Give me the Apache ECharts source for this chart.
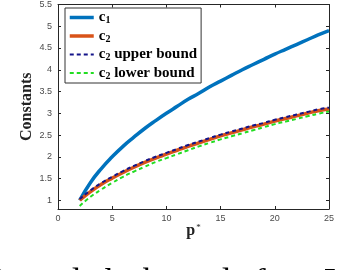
<!DOCTYPE html>
<html>
<head>
<meta charset="utf-8">
<script src="https://cdn.jsdelivr.net/npm/echarts@6/dist/echarts.min.js"></script>
<style>
  html, body { margin: 0; padding: 0; background: #fff; }
  #chart { width: 338px; height: 270px; }
</style>
</head>
<body>
<div id="chart"></div>
<script>
// ---- data ----
var pValues = [2, 3, 4, 5, 6, 7, 8, 9, 10, 11, 12, 13, 14, 15, 16, 17, 18, 19, 20, 21, 22, 23, 24, 25];
var c1 = [1.00, 1.41, 1.73, 2.00, 2.24, 2.45, 2.65, 2.83, 3.00, 3.16, 3.32, 3.46, 3.61, 3.74, 3.87, 4.00, 4.12, 4.24, 4.36, 4.47, 4.58, 4.69, 4.80, 4.90];
var c2 = [1.00, 1.20, 1.37, 1.51, 1.64, 1.76, 1.87, 1.97, 2.06, 2.15, 2.24, 2.32, 2.40, 2.48, 2.55, 2.62, 2.69, 2.75, 2.82, 2.88, 2.94, 3.00, 3.06, 3.10];
var c2Upper = [1.03, 1.23, 1.40, 1.54, 1.67, 1.79, 1.90, 2.00, 2.09, 2.18, 2.27, 2.35, 2.43, 2.51, 2.58, 2.65, 2.72, 2.78, 2.85, 2.91, 2.97, 3.03, 3.09, 3.13];
var c2Lower = [0.87, 1.08, 1.25, 1.40, 1.54, 1.66, 1.77, 1.88, 1.97, 2.06, 2.15, 2.24, 2.32, 2.40, 2.47, 2.54, 2.61, 2.68, 2.75, 2.81, 2.87, 2.93, 2.99, 3.04];
var seriesNames = ['c1', 'c2', 'c2 upper bound', 'c2 lower bound'];
var yTicks = [1, 1.5, 2, 2.5, 3, 3.5, 4, 4.5, 5, 5.5];
var xTicks = [0, 5, 10, 15, 20, 25];
var captionWords = [')', 'and', 'the', 'bounds', 'for', 'L'];

function pairs(vals) {
  return pValues.map(function (p, i) { return [p, vals[i]]; });
}

var axisColor = '#262626';
var labelColor = '#4a4a4a';
var serif = '"Liberation Serif", "DejaVu Serif", serif';
var sans = '"Liberation Sans", Arial, sans-serif';

var legendRich = {
  b: { fontFamily: serif, fontWeight: 'bold', fontSize: 15, color: '#000' },
  s: { fontFamily: serif, fontWeight: 'bold', fontSize: 10, color: '#000', verticalAlign: 'bottom', padding: [6, 0, 0, 0] }
};

function legendFormatter(name) {
  var m = name.match(/^c(\d)(.*)$/);
  if (!m) return name;
  return '{b|c}{s|' + m[1] + '}' + (m[2] ? '{b|' + m[2] + '}' : '');
}

var chart = echarts.init(document.getElementById('chart'), null, { renderer: 'canvas' });

var captionX = [-3, 30, 95, 143, 254, 324];
var graphics = captionWords.map(function (w, i) {
  return {
    type: 'text',
    x: captionX[i],
    y: 266,
    style: { text: w, fontFamily: serif, fontSize: 35, fill: '#000', verticalAlign: 'top', align: 'left' }
  };
});

var legendWidths = [3.5, 3.5, 2, 2];

var option = {
  animation: false,
  backgroundColor: '#fff',
  grid: { left: 58, right: 9, top: 3, bottom: 61, containLabel: false },
  legend: {
    left: 65,
    top: 8,
    orient: 'vertical',
    data: seriesNames.map(function (n, i) { return { name: n, lineStyle: { width: legendWidths[i] } }; }),
    itemWidth: 24,
    itemHeight: 14,
    itemGap: 3,
    padding: [2, 4, 2, 3],
    backgroundColor: '#fff',
    borderColor: '#333',
    borderWidth: 1,
    itemStyle: { opacity: 0 },
    formatter: legendFormatter,
    textStyle: { rich: legendRich, color: '#000' },
    selectedMode: false
  },
  xAxis: [{
    type: 'value',
    min: 0, max: 25, interval: 5,
    position: 'bottom',
    name: '{p|p}{st|*}',
    nameLocation: 'middle',
    nameGap: 14,
    nameMoveOverlap: false,
    nameTextStyle: {
      rich: {
        p: { fontFamily: serif, fontWeight: 'bold', fontSize: 16, color: '#222' },
        st: { fontFamily: serif, fontSize: 9, color: '#222', verticalAlign: 'top', padding: [0, 0, 6, 1] }
      }
    },
    axisLine: { show: true, lineStyle: { color: axisColor, width: 1 } },
    axisTick: { show: true, inside: true, length: 3, lineStyle: { color: axisColor } },
    axisLabel: { color: labelColor, fontSize: 9, fontFamily: sans, margin: 5 },
    splitLine: { show: false }
  }, {
    type: 'value',
    min: 0, max: 25, interval: 5,
    position: 'top',
    axisLine: { show: true, onZero: false, lineStyle: { color: axisColor, width: 1 } },
    axisTick: { show: true, inside: true, length: 3, lineStyle: { color: axisColor } },
    axisLabel: { show: false },
    splitLine: { show: false }
  }],
  yAxis: [{
    type: 'value',
    min: 0.8, max: 5.5,
    position: 'left',
    name: 'Constants',
    nameLocation: 'middle',
    nameRotate: 90,
    nameGap: 23,
    nameMoveOverlap: false,
    nameTextStyle: { fontFamily: serif, fontWeight: 'bold', fontSize: 16, color: '#222' },
    axisLine: { show: true, onZero: false, lineStyle: { color: axisColor, width: 1 } },
    axisTick: { show: true, inside: true, length: 3, customValues: yTicks, lineStyle: { color: axisColor } },
    axisLabel: { color: labelColor, fontSize: 9, fontFamily: sans, margin: 6, customValues: yTicks },
    splitLine: { show: false }
  }, {
    type: 'value',
    min: 0.8, max: 5.5,
    position: 'right',
    axisLine: { show: true, onZero: false, lineStyle: { color: axisColor, width: 1 } },
    axisTick: { show: true, inside: true, length: 3, customValues: yTicks, lineStyle: { color: axisColor } },
    axisLabel: { show: false, customValues: yTicks },
    splitLine: { show: false }
  }],
  series: [{
    name: seriesNames[0], type: 'line', data: pairs(c1), symbol: 'none', smooth: true,
    lineStyle: { color: '#0072BD', width: 3.5 }, itemStyle: { color: '#0072BD' }
  }, {
    name: seriesNames[1], type: 'line', data: pairs(c2), symbol: 'none', smooth: true,
    lineStyle: { color: '#D95319', width: 3.5 }, itemStyle: { color: '#D95319' }
  }, {
    name: seriesNames[2], type: 'line', data: pairs(c2Upper), symbol: 'none', smooth: true,
    lineStyle: { color: '#14148a', width: 2, type: [4, 3] }, itemStyle: { color: '#14148a' }
  }, {
    name: seriesNames[3], type: 'line', data: pairs(c2Lower), symbol: 'none', smooth: true,
    lineStyle: { color: '#22dd22', width: 2, type: [4, 3] }, itemStyle: { color: '#22dd22' }
  }],
  graphic: graphics
};
chart.setOption(option);
</script>
</body>
</html>
